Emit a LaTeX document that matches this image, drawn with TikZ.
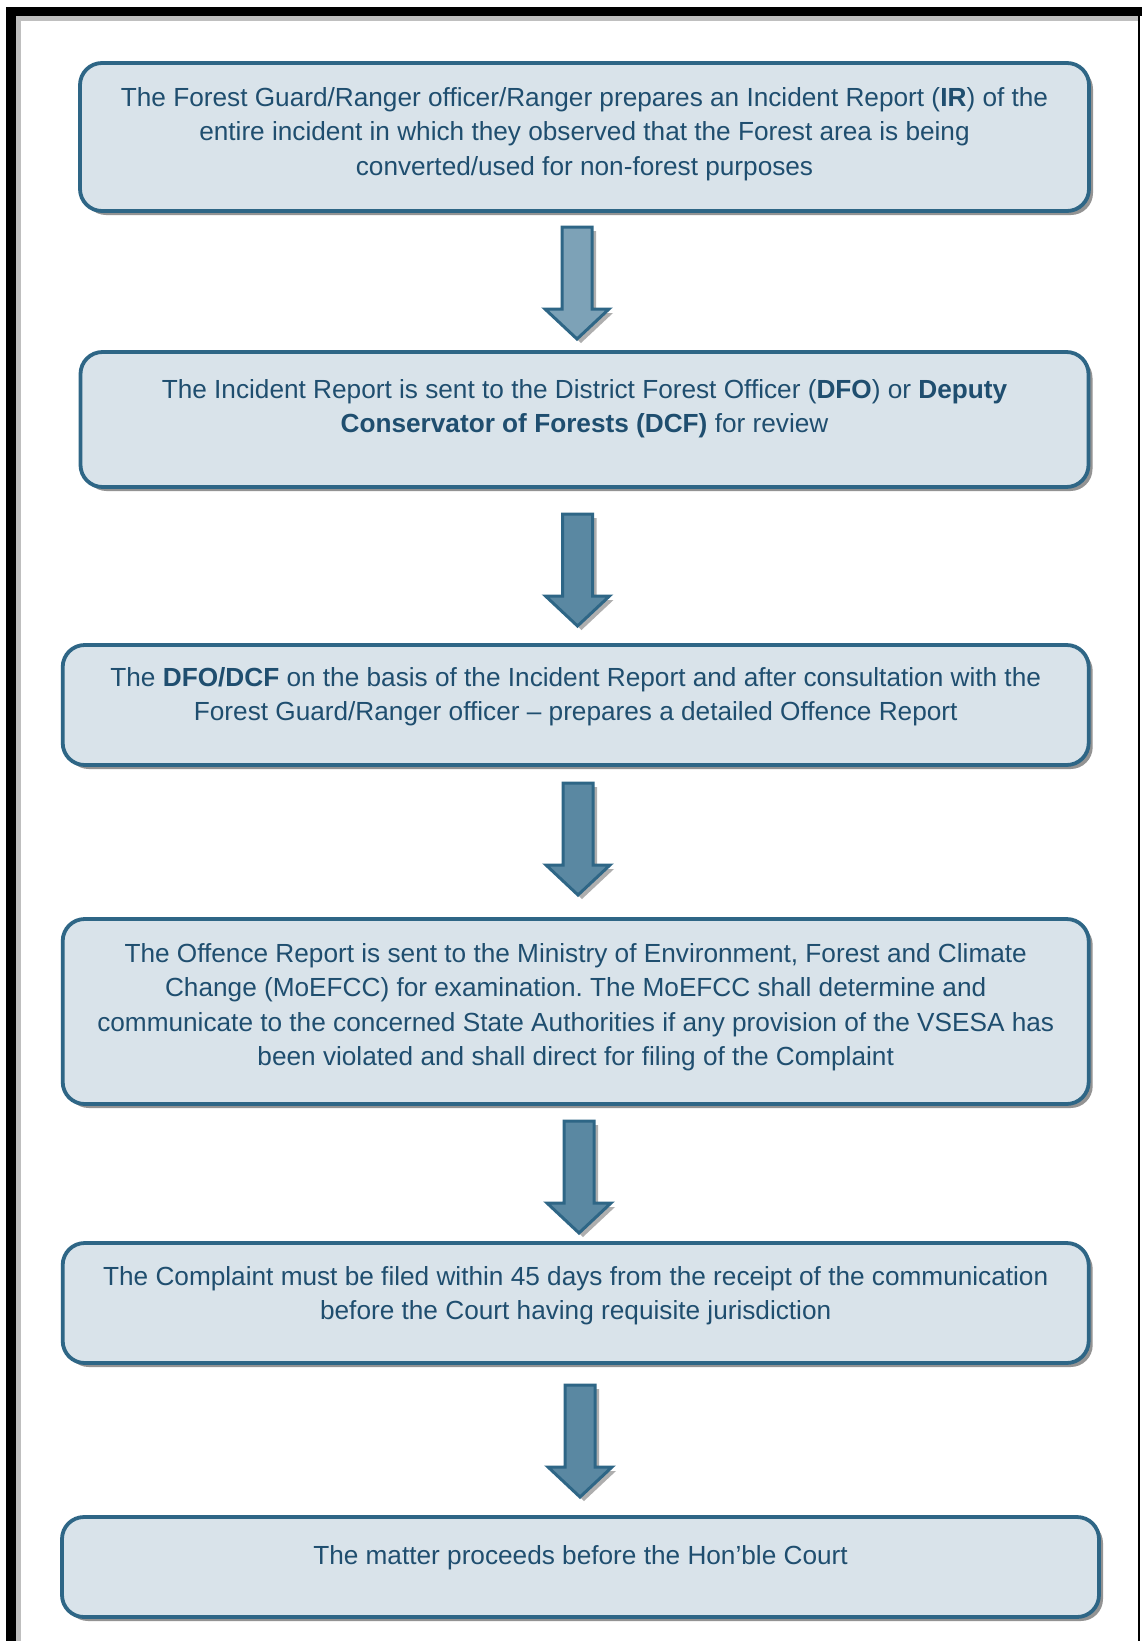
\documentclass[tikz,border=0pt]{standalone}
\usepackage{fontspec}
\setmainfont{Liberation Sans}
\usetikzlibrary{shadows,positioning}
\frenchspacing
\definecolor{boxfill}{HTML}{D9E3EA}
\definecolor{boxline}{HTML}{2E6686}
\definecolor{txtcol}{HTML}{1F4E6F}
\definecolor{arrdark}{HTML}{5A88A2}
\definecolor{arrlight}{HTML}{7DA2B7}
\tikzset{
  stepbox/.style={draw=boxline, line width=3.8pt, fill=boxfill, rounded corners=22pt,
    drop shadow={shadow xshift=4pt, shadow yshift=-4pt, opacity=0.6, fill=black!70}},
  steptext/.style={text=txtcol, align=center, inner sep=0pt,
    font=\fontsize{26.2}{34.5}\selectfont},
  blockarr/.pic={
    \draw[line width=3pt, draw=boxline, line join=miter, pic actions,
      drop shadow={shadow xshift=4pt, shadow yshift=-4pt, opacity=0.45, fill=black!70}]
      (-15,0) -- (15,0) -- (15,82) -- (32,82) -- (0,112) -- (-32,82) -- (-15,82) -- cycle;
  }
}
\begin{document}
\begin{tikzpicture}[x=1pt,y=-1pt]
\useasboundingbox (0,0) rectangle (1142,1641);
\fill[white] (0,0) rectangle (1142,1641);
% frame
\fill[black!25] (16,16) rectangle (1139,21);
\fill[black!25] (16,16) rectangle (21,1641);
\fill[black] (6,7) rectangle (1142,16);
\fill[black] (6,7) rectangle (16,1641);
\fill[black] (1138,16) rectangle (1140,1641);

% boxes
\node[stepbox, minimum width=1009pt, minimum height=148pt] (b1) at (584.5,137) {};
\node[stepbox, minimum width=1008pt, minimum height=135pt] (b2) at (584.5,419.5) {};
\node[stepbox, minimum width=1026pt, minimum height=120pt] (b3) at (575.7,705) {};
\node[stepbox, minimum width=1026pt, minimum height=185pt] (b4) at (575.7,1011.5) {};
\node[stepbox, minimum width=1026pt, minimum height=120pt] (b5) at (575.7,1303) {};
\node[stepbox, minimum width=1037pt, minimum height=100pt] (b6) at (580.5,1567) {};

% texts
\node[steptext, below=26pt of b1.north] (t1) {The Forest Guard/Ranger officer/Ranger prepares an Incident Report (\textbf{IR}) of the\\entire incident in which they observed that the Forest area is being\\converted/used for non-forest purposes};
\node[steptext, below=29pt of b2.north] (t2) {The Incident Report is sent to the District Forest Officer (\textbf{DFO}) or \textbf{Deputy}\\\textbf{Conservator of Forests (DCF)} for review};
\node[steptext, below=24pt of b3.north] (t3) {The \textbf{DFO/DCF} on the basis of the Incident Report and after consultation with the\\Forest Guard/Ranger officer -- prepares a detailed Offence Report};
\node[steptext, below=26pt of b4.north] (t4) {The Offence Report is sent to the Ministry of Environment, Forest and Climate\\Change (MoEFCC) for examination. The MoEFCC shall determine and\\communicate to the concerned State Authorities if any provision of the VSESA has\\been violated and shall direct for filing of the Complaint};
\node[steptext, below=25pt of b5.north] (t5) {The Complaint must be filed within 45 days from the receipt of the communication\\before the Court having requisite jurisdiction};
\node[steptext, below=30pt of b6.north] (t6) {The matter proceeds before the Hon’ble Court};

% arrows
\pic[fill=arrlight] (a1) at (577,227) {blockarr};
\pic[fill=arrdark] (a2) at (577.5,514) {blockarr};
\pic[fill=arrdark] (a3) at (578,783) {blockarr};
\pic[fill=arrdark] (a4) at (579,1121) {blockarr};
\pic[fill=arrdark] (a5) at (580,1385) {blockarr};
\end{tikzpicture}
\end{document}
